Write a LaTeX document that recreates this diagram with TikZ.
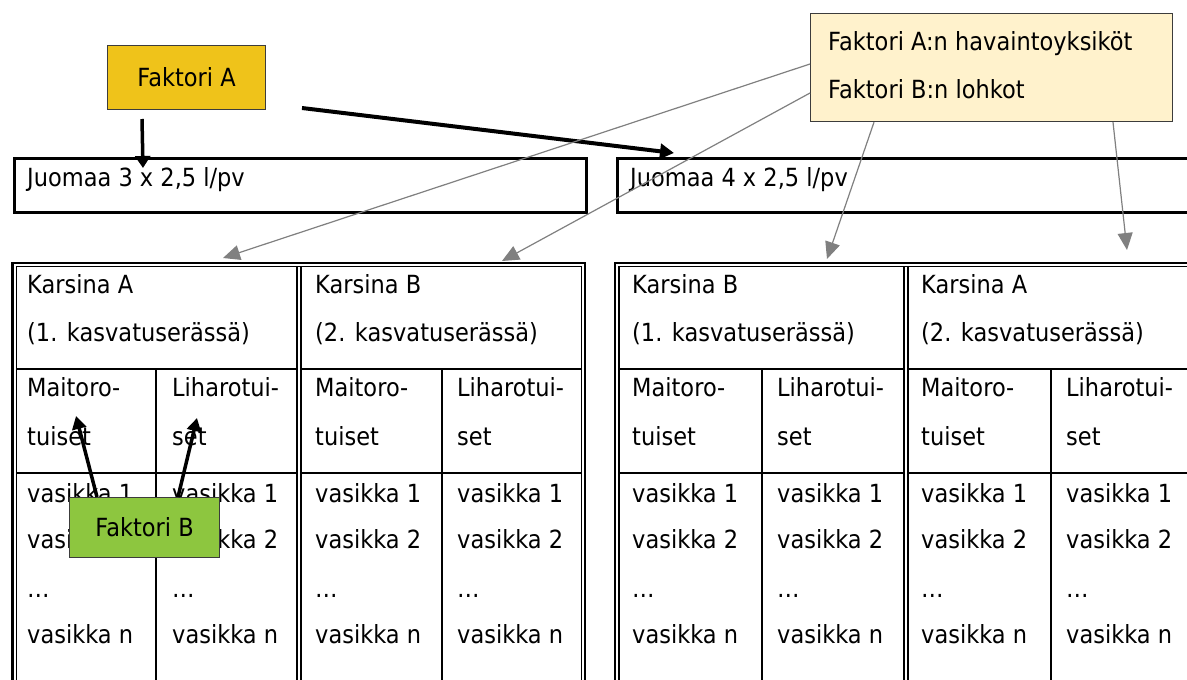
\documentclass[tikz,border=0pt]{standalone}
\usepackage{fontspec}
\setmainfont{DejaVu Sans}[FakeStretch=0.9]
\usetikzlibrary{arrows.meta,calc}
\definecolor{gold}{RGB}{239,195,26}
\definecolor{lgreen}{RGB}{141,198,63}
\definecolor{cream}{RGB}{255,242,204}
\definecolor{gline}{RGB}{128,128,128}
\definecolor{boxline}{RGB}{60,60,60}
\begin{document}
\begin{tikzpicture}[x=1pt,y=-1pt,font=\fontsize{25}{29}\selectfont,
  txt/.style={anchor=base west,inner sep=0pt},
  thickline/.style={line width=2.8pt},
  thinline/.style={line width=1.2pt},
  cellline/.style={line width=2pt},
  factorbox/.style={draw=boxline,line width=1.2pt,anchor=north west,inner sep=0pt},
  bigarrow/.style={line width=4pt,-{Triangle[length=14pt,width=15pt]}},
  greyarrow/.style={draw=gline,line width=1.2pt,-{Triangle[length=17pt,width=15pt]},gline}]
\clip (0,0) rectangle (1187,680);
\fill[white] (0,0) rectangle (1187,680);

% Top boxes
\node[factorbox,fill=gold,minimum width=158pt,minimum height=64pt] (fa) at (107,45) {Faktori A};
\node[factorbox,fill=cream,minimum width=362pt,minimum height=108pt] (yb) at (810,13) {};
\node[txt] (yt1) at (828,50) {Faktori A:n havaintoyksiköt};
\node[txt] (yt2) at (828,98) {Faktori B:n lohkot};

\node[draw,line width=2.6pt,anchor=north west,minimum width=572pt,minimum height=54pt,inner sep=0pt] (j3) at (13,157) {};
\node[txt] (j3t) at (27,186) {Juomaa 3 x 2,5 l/pv};
\node[draw,line width=2.6pt,anchor=north west,minimum width=600pt,minimum height=54pt,inner sep=0pt] (j4) at (616,157) {};
\node[txt] (j4t) at (630,186) {Juomaa 4 x 2,5 l/pv};

% Left table
\draw[thickline] (12.5,690) -- (12.5,263) -- (585,263) -- (585,690);
\draw[thinline] (16.5,690) -- (16.5,266.8) -- (581.3,266.8) -- (581.3,690);
\draw[thinline] (297,266.8) -- (297,690) (301,266.8) -- (301,690);
\draw[cellline] (16.5,369) -- (297,369) (301,369) -- (581.3,369)
                (16.5,473) -- (297,473) (301,473) -- (581.3,473)
                (156,369) -- (156,690) (442,369) -- (442,690);
% Right table
\draw[thickline] (615,690) -- (615,263) -- (1195,263);
\draw[thinline] (619,690) -- (619,266.8) -- (1195,266.8);
\draw[thinline] (904,266.8) -- (904,690) (908,266.8) -- (908,690);
\draw[cellline] (619,369) -- (904,369) (908,369) -- (1195,369)
                (619,473) -- (904,473) (908,473) -- (1195,473)
                (762,369) -- (762,690) (1051,369) -- (1051,690);

% Headers
\node[txt] (ka1) at (27,293) {Karsina A};
\node[txt] (ka2) at (27,341) {(1. kasvatuserässä)};
\node[txt] (kb1) at (315,293) {Karsina B};
\node[txt] (kb2) at (315,341) {(2. kasvatuserässä)};
\node[txt] (kc1) at (632,293) {Karsina B};
\node[txt] (kc2) at (632,341) {(1. kasvatuserässä)};
\node[txt] (kd1) at (921,293) {Karsina A};
\node[txt] (kd2) at (921,341) {(2. kasvatuserässä)};

\foreach \x/\n in {27/1,315/3,632/5,921/7}{
  \node[txt] (m1-\n) at (\x,396) {Maitoro-};
  \node[txt] (m2-\n) at (\x,445) {tuiset};
}
\foreach \x/\n in {172/2,457/4,777/6,1066/8}{
  \node[txt] (l1-\n) at (\x,396) {Liharotui-};
  \node[txt] (l2-\n) at (\x,445) {set};
}
\foreach \x/\n in {27/1,172/2,315/3,457/4,632/5,777/6,921/7,1066/8}{
  \node[txt] (v1-\n) at (\x,502) {vasikka 1};
  \node[txt] (v2-\n) at (\x,548) {vasikka 2};
  \node[txt] (v3-\n) at (\x,597) {…};
  \node[txt] (v4-\n) at (\x,643) {vasikka n};
}

% Faktori B
\node[factorbox,fill=lgreen,minimum width=150pt,minimum height=60pt] (fb) at (69,497) {Faktori B};

% Black arrows
\coordinate (faS) at (142,119);
\coordinate (faT) at (143,168);
\draw[line width=3.5pt,-{Triangle[length=12pt,width=15pt]}] (faS) -- (faT);
\coordinate (fa2S) at (302,108);
\coordinate (fa2T) at (674,153);
\draw[bigarrow] (fa2S) -- (fa2T);
\coordinate (fb1T) at (76,416);
\coordinate (fb2T) at (197,418);
\draw[line width=3.5pt,-{Triangle[length=13pt,width=14pt]}] ($(fb.north west)+(28,0)$) -- (fb1T);
\draw[line width=3.5pt,-{Triangle[length=13pt,width=14pt]}] ($(fb.north west)+(109,0)$) -- (fb2T);

% Grey arrows
\coordinate (g1T) at (223,258);
\coordinate (g2T) at (502,261);
\coordinate (g3T) at (827,259);
\coordinate (g4T) at (1127,250);
\draw[greyarrow] ($(yb.north west)+(0,51)$) -- (g1T);
\draw[greyarrow] ($(yb.north west)+(0,80)$) -- (g2T);
\draw[greyarrow] ($(yb.south west)+(64,0)$) -- (g3T);
\draw[greyarrow] ($(yb.south west)+(303,0)$) -- (g4T);
\end{tikzpicture}
\end{document}
